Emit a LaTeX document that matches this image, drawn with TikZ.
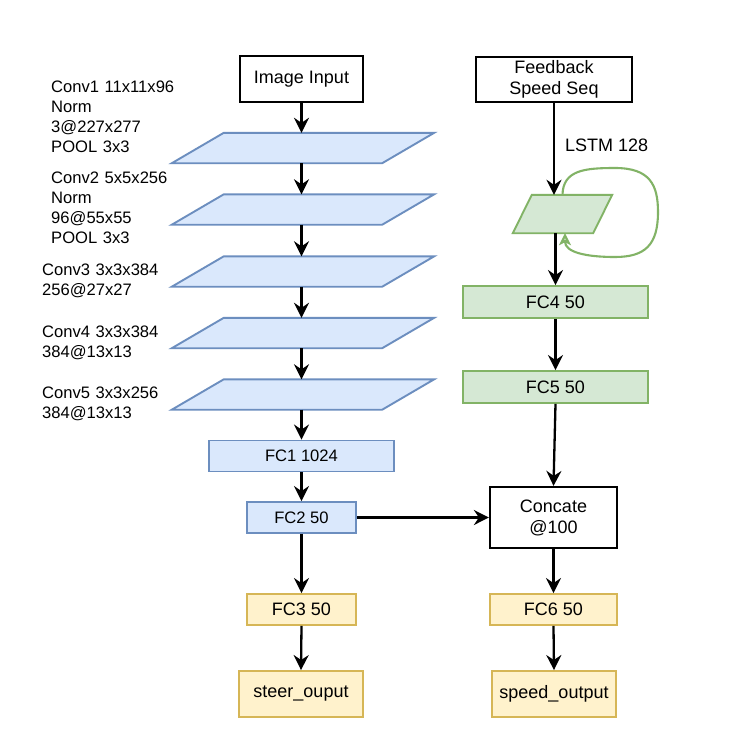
\documentclass[tikz,border=0pt]{standalone}
\usepackage{fontspec}
\setmainfont{Liberation Sans}
\usetikzlibrary{arrows.meta,calc}
\definecolor{bfill}{HTML}{DAE8FC}
\definecolor{bdraw}{HTML}{6C8EBF}
\definecolor{gfill}{HTML}{D5E8D4}
\definecolor{gdraw}{HTML}{82B366}
\definecolor{yfill}{HTML}{FFF2CC}
\definecolor{ydraw}{HTML}{D6B656}
\newcommand\drawpara[3]{\draw[#3] ([xshift=#2]#1.north west) -- (#1.north east) -- ([xshift=-#2]#1.south east) -- (#1.south west) -- cycle;}
\begin{document}
\begin{tikzpicture}[x=1pt,y=-1pt,
  big/.style={font=\fontsize{18}{21}\selectfont},
  small/.style={font=\fontsize{16.6}{20}\selectfont},
  sz/.style 2 args={minimum width=#1,minimum height=#2,inner sep=0pt,align=center},
  blackbox/.style={draw=black,line width=2.2pt,fill=white,big},
  bluebox/.style={draw=bdraw,line width=1.9pt,fill=bfill,small},
  greenbox/.style={draw=gdraw,line width=1.9pt,fill=gfill,big},
  yellowbox/.style={draw=ydraw,line width=1.9pt,fill=yfill,big},
  parabox/.style={minimum width=262,minimum height=30,inner sep=0pt},
  bluepara/.style={draw=bdraw,line width=1.9pt,fill=bfill},
  greenpara/.style={draw=gdraw,line width=1.9pt,fill=gfill},
  lbl/.style={small,anchor=base west,text width=170pt,align=left,inner sep=0pt},
  arr/.style={-{Stealth[length=15pt,width=15pt,inset=5pt]},line width=2.3pt},
  looparr/.style={draw=gdraw,line width=2.1pt,-{Stealth[length=12pt,width=12pt,inset=3pt,fill=gfill]}}
]
\useasboundingbox[fill=white] (0,0) rectangle (748,734);

% left column
\node[blackbox,sz={123}{46}] (img) at (301.5,79) {Image Input};
\node[parabox] (c1) at (303,148) {};
\node[parabox] (c2) at (303,209.5) {};
\node[parabox] (c3) at (303,271.5) {};
\node[parabox] (c4) at (303,333) {};
\node[parabox] (c5) at (303,394.5) {};
\drawpara{c1}{52pt}{bluepara}
\drawpara{c2}{52pt}{bluepara}
\drawpara{c3}{52pt}{bluepara}
\drawpara{c4}{52pt}{bluepara}
\drawpara{c5}{52pt}{bluepara}
\node[bluebox,sz={185}{31}] (fc1) at (301.5,456) {FC1 1024};
\node[bluebox,sz={109}{31}] (fc2) at (301.5,517.5) {FC2 50};
\node[yellowbox,sz={109}{31}] (fc3) at (301.5,609.5) {FC3 50};
\node[yellowbox,sz={124}{46}] (steer) at (301,694) {steer\_ouput};

% labels
\node[lbl] (l1) at (51,92) {Conv1 11x11x96\\Norm\\3@227x277\\POOL 3x3};
\node[lbl] (l2) at (51,183) {Conv2 5x5x256\\Norm\\96@55x55\\POOL 3x3};
\node[lbl] (l3) at (42,275) {Conv3 3x3x384\\256@27x27};
\node[lbl] (l4) at (42,337) {Conv4 3x3x384\\384@13x13};
\node[lbl] (l5) at (42,398) {Conv5 3x3x256\\384@13x13};

% right column
\node[blackbox,sz={156}{45}] (fb) at (554,79.5) {Feedback\\Speed Seq};
\node[minimum width=99,minimum height=38,inner sep=0pt] (lstm) at (562.5,214) {};
\drawpara{lstm}{19pt}{greenpara}
\node[big,anchor=west,inner sep=0pt] (lstmlbl) at (565,145) {LSTM 128};
\node[greenbox,sz={185}{32}] (fc4) at (555.5,302) {FC4 50};
\node[greenbox,sz={185}{32}] (fc5) at (555.5,387) {FC5 50};
\node[blackbox,sz={127}{61}] (cat) at (553.5,517.5) {Concate\\@100};
\node[yellowbox,sz={127}{31}] (fc6) at (553.5,609.5) {FC6 50};
\node[yellowbox,sz={124}{46}] (speed) at (554,694) {speed\_output};

% arrows left
\draw[arr] (img.south) -- (img.south |- c1.north);
\draw[arr] (img.south |- c1.south) -- (img.south |- c2.north);
\draw[arr] (img.south |- c2.south) -- (img.south |- c3.north);
\draw[arr] (img.south |- c3.south) -- (img.south |- c4.north);
\draw[arr] (img.south |- c4.south) -- (img.south |- c5.north);
\draw[arr] (img.south |- c5.south) -- (fc1.north);
\draw[arr] (fc1.south) -- (fc2.north);
\draw[arr] (fc2.south) -- (fc3.north);
\draw[arr] (fc3.south) -- (steer.north);
\draw[arr] (fc2.east) -- (cat.west);

% arrows right
\draw[arr] (fb.south) -- (fb.south |- lstm.north);
\draw[arr] (fc4.north |- lstm.south) -- (fc4.north);
\draw[arr] (fc4.south) -- (fc5.north);
\draw[arr] (fc5.south) -- (cat.north);
\draw[arr] (cat.south) -- (fc6.north);
\draw[arr] (fc6.south) -- (speed.north);
\draw[looparr] (lstm.north) .. controls (563,170) and (585,168) .. (615,168)
  .. controls (650,168) and (658,185) .. (658,212)
  .. controls (658,245) and (645,257) .. (615,257)
  .. controls (585,257) and (565,252) .. ([xshift=2.5pt]lstm.south);
\end{tikzpicture}
\end{document}
